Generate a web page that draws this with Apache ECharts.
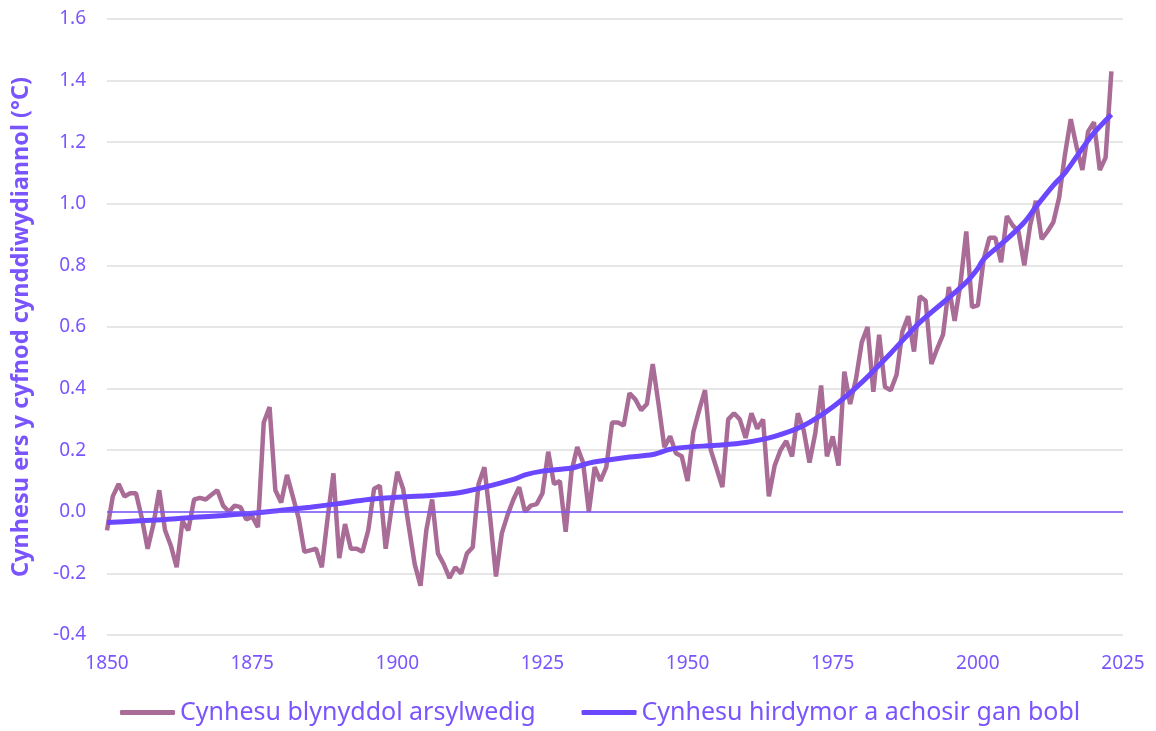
<!DOCTYPE html>
<html>
<head>
<meta charset="utf-8">
<title>Cynhesu</title>
<script src="https://cdn.jsdelivr.net/npm/echarts@6/dist/echarts.min.js"></script>
<style>
    html, body { margin: 0; padding: 0; background: #fff; }
    #chart { width: 1156px; height: 731px; }
</style>
</head>
<body>
<div id="chart"></div>
<script>
// blwyddyn gyntaf y gyfres flynyddol
const startYear = 1850;

// cynhesu blynyddol arsylwedig, 1850-2023 (°C)
const observed = [
    -0.06, 0.05, 0.09, 0.05, 0.06, 0.06, -0.02, -0.12, -0.04, 0.07,
    -0.06, -0.11, -0.18, -0.03, -0.06, 0.04, 0.045, 0.04, 0.055, 0.07,
    0.02, 0.0, 0.02, 0.015, -0.025, -0.015, -0.05, 0.29, 0.34, 0.07,
    0.03, 0.12, 0.05, -0.02, -0.13, -0.125, -0.12, -0.18, -0.02, 0.125,
    -0.15, -0.04, -0.12, -0.12, -0.13, -0.06, 0.075, 0.085, -0.12, 0.01,
    0.13, 0.075, -0.05, -0.17, -0.24, -0.06, 0.04, -0.135, -0.17, -0.215,
    -0.18, -0.2, -0.135, -0.115, 0.09, 0.145, -0.02, -0.21, -0.07, -0.01,
    0.04, 0.08, 0.0, 0.02, 0.025, 0.06, 0.195, 0.09, 0.10, -0.065,
    0.13, 0.21, 0.16, 0.0, 0.145, 0.1, 0.145, 0.29, 0.29, 0.28,
    0.385, 0.365, 0.33, 0.35, 0.48, 0.35, 0.21, 0.245, 0.19, 0.18,
    0.10, 0.26, 0.33, 0.395, 0.2, 0.14, 0.08, 0.30, 0.32, 0.3,
    0.24, 0.32, 0.27, 0.3, 0.05, 0.15, 0.2, 0.23, 0.18, 0.32,
    0.265, 0.16, 0.255, 0.41, 0.18, 0.245, 0.15, 0.455, 0.35, 0.43,
    0.55, 0.6, 0.39, 0.575, 0.405, 0.395, 0.445, 0.585, 0.635, 0.52,
    0.70, 0.685, 0.48, 0.53, 0.575, 0.73, 0.62, 0.74, 0.91, 0.665,
    0.67, 0.82, 0.89, 0.89, 0.81, 0.96, 0.93, 0.91, 0.80, 0.93,
    1.01, 0.885, 0.91, 0.94, 1.02, 1.16, 1.275, 1.185, 1.11, 1.235,
    1.265, 1.11, 1.15, 1.43
];

// cynhesu hirdymor a achosir gan bobl (darllenwyd ar y blynyddoedd hyn)
const trendYears = [
    1850, 1855, 1860, 1865, 1870, 1875, 1880, 1885, 1890, 1895,
    1900, 1905, 1910, 1915, 1920, 1922, 1925, 1930, 1933, 1935,
    1940, 1944, 1947, 1950, 1955, 1960, 1965, 1970, 1975, 1980,
    1985, 1990, 1995, 1998, 2000, 2001, 2005, 2008, 2010, 2013,
    2015, 2018, 2020, 2023
];
const trendValues = [
    -0.035, -0.03, -0.025, -0.018, -0.012, -0.005, 0.005, 0.015, 0.027, 0.04,
    0.047, 0.052, 0.06, 0.08, 0.105, 0.12, 0.132, 0.142, 0.158, 0.165,
    0.178, 0.186, 0.203, 0.21, 0.216, 0.225, 0.245, 0.28, 0.34, 0.42,
    0.515, 0.615, 0.695, 0.745, 0.79, 0.82, 0.885, 0.94, 0.99, 1.06,
    1.1, 1.18, 1.23, 1.29
];

const seriesNames = ['Cynhesu blynyddol arsylwedig', 'Cynhesu hirdymor a achosir gan bobl'];
const yAxisTitle = 'Cynhesu ers y cyfnod cynddiwydiannol (°C)';

const textColor = '#7a55ff';
const font = 'Noto Sans';

const observedData = observed.map((v, i) => [startYear + i, v]);
const trendData = trendYears.map((y, i) => [y, trendValues[i]]);

const options = {
    animation: false,
    grid: {
        left: 107,
        right: 33,
        top: 19,
        bottom: 96
    },
    legend: {
        bottom: 1,
        left: 115,
        icon: 'roundRect',
        itemWidth: 55,
        itemHeight: 5,
        itemGap: 46,
        textStyle: {
            color: textColor,
            fontFamily: font,
            fontSize: 25
        },
        data: seriesNames
    },
    xAxis: {
        type: 'value',
        min: 1850,
        max: 2025,
        interval: 25,
        axisLine: { show: false },
        axisTick: { show: false },
        splitLine: { show: false },
        axisLabel: {
            color: textColor,
            fontFamily: font,
            fontSize: 19,
            margin: 19,
            formatter: v => String(v)
        }
    },
    yAxis: {
        type: 'value',
        min: -0.4,
        max: 1.6,
        interval: 0.2,
        name: yAxisTitle,
        nameLocation: 'middle',
        nameGap: 74,
        nameTextStyle: {
            color: textColor,
            fontFamily: font,
            fontSize: 23.5,
            fontWeight: 'bold'
        },
        axisLine: { show: false },
        axisTick: { show: false },
        splitLine: {
            lineStyle: { color: '#dedede', width: 1.5 }
        },
        axisLabel: {
            color: textColor,
            fontFamily: font,
            fontSize: 19,
            margin: 21,
            formatter: v => v.toFixed(1)
        }
    },
    series: [
        {
            name: seriesNames[0],
            type: 'line',
            data: observedData,
            symbol: 'none',
            lineStyle: { color: '#a96c97', width: 4.5 },
            itemStyle: { color: '#a96c97' },
            markLine: {
                silent: true,
                symbol: 'none',
                label: { show: false },
                lineStyle: { color: '#7a55ff', width: 1.5, type: 'solid' },
                data: [{ yAxis: 0 }]
            }
        },
        {
            name: seriesNames[1],
            type: 'line',
            data: trendData,
            symbol: 'none',
            smooth: 0.3,
            lineStyle: { color: '#6b47ff', width: 5 },
            itemStyle: { color: '#6b47ff' }
        }
    ]
};

const E = echarts.init(document.getElementById('chart'));
window.onresize = function () {
    E.resize();
};
E.setOption(options);
</script>
</body>
</html>
